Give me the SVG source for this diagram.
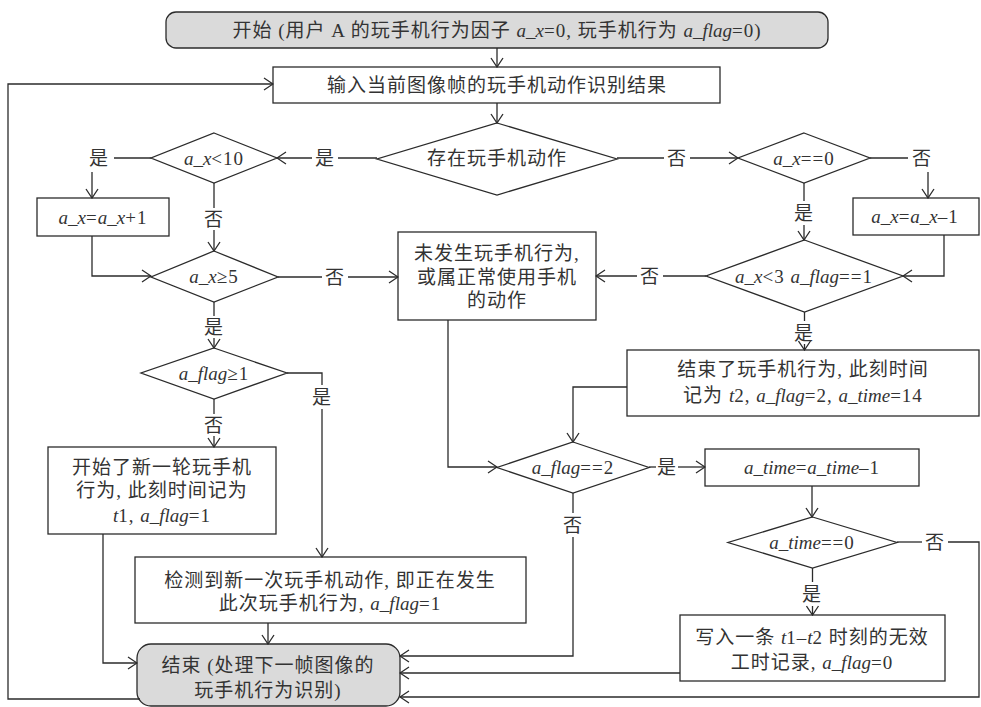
<svg xmlns="http://www.w3.org/2000/svg" width="981" height="707" viewBox="0 0 981 707">
<defs>
<marker id="ah" viewBox="-10 -7 11 14" refX="0" refY="0" markerWidth="11" markerHeight="14" markerUnits="userSpaceOnUse" orient="auto">
<path d="M-9,-6 L0,0 L-9,6" fill="none" stroke="#2b2b2b" stroke-width="1.3"/>
</marker>
</defs>
<style>
text{font-family:"Liberation Serif","Noto Sans CJK SC",serif;font-size:19px;fill:#333;text-anchor:middle;dominant-baseline:central;letter-spacing:1px}
.i{font-style:italic;letter-spacing:0}
.box{fill:#fff;stroke:#2b2b2b;stroke-width:1.3}
.term{fill:#dadada;stroke:#2b2b2b;stroke-width:1.3}
.ln{fill:none;stroke:#2b2b2b;stroke-width:1.3}
.ar{fill:none;stroke:#2b2b2b;stroke-width:1.3;marker-end:url(#ah)}
</style>
<rect width="981" height="707" fill="#fff"/>

<g id="start">
<rect class="term" x="166" y="12" width="662" height="36" rx="10"/>
<text x="497" y="30">开始 (用户 A 的玩手机行为因子 <tspan class="i">a_x</tspan>=0, 玩手机行为 <tspan class="i">a_flag</tspan>=0)</text>
</g>
<g id="input">
<rect class="box" x="273" y="67" width="447" height="36"/>
<text x="497" y="85">输入当前图像帧的玩手机动作识别结果</text>
</g>
<g id="d_exist">
<polygon class="box" points="497,123 617,159 497,195 377,159"/>
<text x="497" y="158">存在玩手机动作</text>
</g>
<g id="d_lt10">
<polygon class="box" points="214,133 277,158 214,183 151,158"/>
<text x="214" y="158"><tspan class="i">a_x</tspan>&lt;10</text>
</g>
<g id="inc">
<rect class="box" x="37" y="198" width="132" height="38"/>
<text x="103" y="217"><tspan class="i">a_x</tspan>=<tspan class="i">a_x</tspan>+1</text>
</g>
<g id="d_ge5">
<polygon class="box" points="214,251 278,277 214,302 151,277"/>
<text x="214" y="276"><tspan class="i">a_x</tspan>≥5</text>
</g>
<g id="d_flag1">
<polygon class="box" points="214,348 287,373 214,399 141,373"/>
<text x="214" y="373"><tspan class="i">a_flag</tspan>≥1</text>
</g>
<g id="newround">
<rect class="box" x="48" y="447" width="228" height="87"/>
<text x="162" y="467">开始了新一轮玩手机</text>
<text x="162" y="490">行为, 此刻时间记为</text>
<text x="162" y="515"><tspan class="i">t</tspan>1, <tspan class="i">a_flag</tspan>=1</text>
</g>
<g id="detect">
<rect class="box" x="135" y="557" width="391" height="66"/>
<text x="330" y="580">检测到新一次玩手机动作, 即正在发生</text>
<text x="330" y="603">此次玩手机行为, <tspan class="i">a_flag</tspan>=1</text>
</g>
<g id="end">
<rect class="term" x="137" y="644" width="263" height="62" rx="14"/>
<text x="268" y="665">结束 (处理下一帧图像的</text>
<text x="268" y="690">玩手机行为识别)</text>
</g>
<g id="none">
<rect class="box" x="398" y="232" width="198" height="88"/>
<text x="497" y="253">未发生玩手机行为,</text>
<text x="497" y="277">或属正常使用手机</text>
<text x="497" y="300">的动作</text>
</g>
<g id="d_eq0">
<polygon class="box" points="804,133 870,158 804,183 738,158"/>
<text x="804" y="158"><tspan class="i">a_x</tspan>==0</text>
</g>
<g id="dec">
<rect class="box" x="853" y="198" width="126" height="37"/>
<text x="915" y="216"><tspan class="i">a_x</tspan>=<tspan class="i">a_x</tspan>–1</text>
</g>
<g id="d_lt3">
<polygon class="box" points="804.5,240 903,276 804.5,312 706,276"/>
<text x="804" y="276"><tspan class="i">a_x</tspan>&lt;3 <tspan class="i">a_flag</tspan>==1</text>
</g>
<g id="ended">
<rect class="box" x="627" y="350" width="352" height="66"/>
<text x="803" y="369">结束了玩手机行为, 此刻时间</text>
<text x="803" y="395">记为 <tspan class="i">t</tspan>2, <tspan class="i">a_flag</tspan>=2, <tspan class="i">a_time</tspan>=14</text>
</g>
<g id="d_flag2">
<polygon class="box" points="573,442 649,467.5 573,493 497,467.5"/>
<text x="573" y="467"><tspan class="i">a_flag</tspan>==2</text>
</g>
<g id="timedec">
<rect class="box" x="705" y="449" width="214" height="37"/>
<text x="812" y="467"><tspan class="i">a_time</tspan>=<tspan class="i">a_time</tspan>–1</text>
</g>
<g id="d_time0">
<polygon class="box" points="812.5,517 897,542.5 812.5,568 728,542.5"/>
<text x="812" y="542"><tspan class="i">a_time</tspan>==0</text>
</g>
<g id="write">
<rect class="box" x="680" y="615" width="265" height="66"/>
<text x="812" y="637">写入一条 <tspan class="i">t</tspan>1–<tspan class="i">t</tspan>2 时刻的无效</text>
<text x="812" y="662">工时记录, <tspan class="i">a_flag</tspan>=0</text>
</g>

<g id="connectors">
<path class="ar" d="M497,48 V67"/>
<path class="ar" d="M497,103 V123"/>
<path class="ln" d="M377,158 H338"/>
<path class="ar" d="M312,158 H277"/>
<path class="ln" d="M151,158 H114"/>
<path class="ar" d="M92,172 V198"/>
<path class="ln" d="M214,183 V208"/>
<path class="ar" d="M214,230 V251"/>
<path class="ar" d="M92,236 V276 H151"/>
<path class="ln" d="M278,277 H322"/>
<path class="ar" d="M348,277 H398"/>
<path class="ln" d="M214,302 V316"/>
<path class="ar" d="M214,338 V348"/>
<path class="ln" d="M287,373 H322 V385"/>
<path class="ar" d="M322,409 V557"/>
<path class="ln" d="M214,399 V414"/>
<path class="ar" d="M214,436 V447"/>
<path class="ar" d="M103,534 V663 H137"/>
<path class="ar" d="M268,623 V644"/>
<path class="ar" d="M140,699 H8 V84 H273"/>
<path class="ln" d="M617,158 H664"/>
<path class="ar" d="M690,158 H738"/>
<path class="ln" d="M870,158 H908"/>
<path class="ar" d="M928,172 V198"/>
<path class="ln" d="M804,183 V201"/>
<path class="ar" d="M804,225 V240"/>
<path class="ar" d="M944,235 V276 H903"/>
<path class="ln" d="M706,276 H663"/>
<path class="ar" d="M637,276 H596"/>
<path class="ln" d="M804.5,312 V321"/>
<path class="ar" d="M804.5,344 V350"/>
<path class="ar" d="M627,387 H573 V442"/>
<path class="ar" d="M448,320 V467 H497"/>
<path class="ln" d="M649,467 H656"/>
<path class="ar" d="M678,467 H705"/>
<path class="ar" d="M812,486 V517"/>
<path class="ln" d="M573,493 V513"/>
<path class="ar" d="M573,537 V656 H400"/>
<path class="ln" d="M812.5,568 V582"/>
<path class="ar" d="M812.5,606 V615"/>
<path class="ln" d="M897,542 H922"/>
<path class="ar" d="M948,542 H979 V697 H400"/>
<path class="ar" d="M680,673 H400"/>
</g>
<g id="labels">
<text x="99" y="158">是</text>
<text x="325" y="158">是</text>
<text x="214" y="219">否</text>
<text x="335" y="277">否</text>
<text x="214" y="327">是</text>
<text x="322" y="397">是</text>
<text x="214" y="425">否</text>
<text x="677" y="158">否</text>
<text x="922" y="158">否</text>
<text x="804" y="213">是</text>
<text x="650" y="276">否</text>
<text x="804" y="333">是</text>
<text x="667" y="467">是</text>
<text x="573" y="525">否</text>
<text x="812" y="594">是</text>
<text x="935" y="542">否</text>
</g>
</svg>
